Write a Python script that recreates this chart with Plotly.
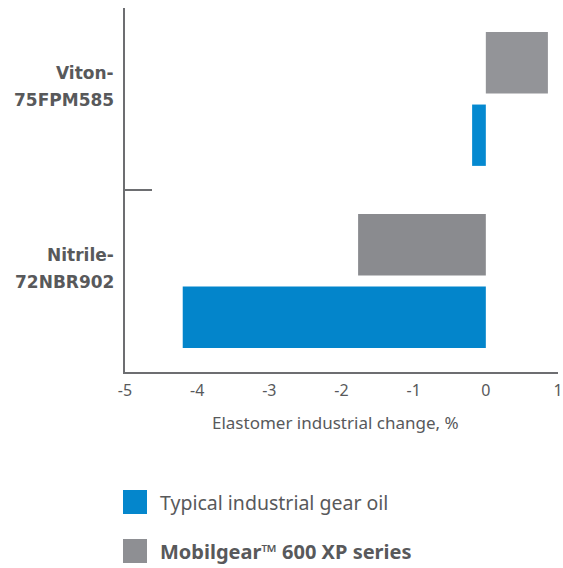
import plotly.graph_objects as go

categories = ["Nitrile-72NBR902", "Viton-75FPM585"]
category_lines = [["Nitrile-", "72NBR902"], ["Viton-", "75FPM585"]]
typical_values = [-4.2, -0.19]
mobilgear_values = [-1.77, 0.86]
series_names = ["Typical industrial gear oil", "Mobilgear™ 600 XP series"]
x_ticks = [-5, -4, -3, -2, -1, 0, 1]
x_tick_labels = ["-5", "-4", "-3", "-2", "-1", "0", "1"]
x_title = "Elastomer industrial change, %"

BLUE = "#0486cc"
GRAY = "#8e8f93"
TEXT = "#58595b"
AXIS = "#6d6e71"
FONT = "Noto Sans"
BOLD_FONT = "DejaVu Sans"

fig = go.Figure()
fig.add_trace(go.Bar(y=categories, x=typical_values, orientation="h",
                     name=series_names[0],
                     marker=dict(color=["#0385cb", "#0589d0"], line=dict(width=0)),
                     showlegend=False))
fig.add_trace(go.Bar(y=categories, x=mobilgear_values, orientation="h",
                     name=series_names[1],
                     marker=dict(color=["#8a8b8f", "#939498"], line=dict(width=0)),
                     showlegend=False))

L, R, T, B = 125, 5, 8, 196
W, H = 563.0 - L - R, 568.0 - T - B  # plot area size in px
Y0 = T + H  # pixel row of the x axis line

# category labels (two lines each, right aligned at the axis)
for cat, lines in zip(categories, category_lines):
    for i, line in enumerate(lines):
        fig.add_annotation(xref="paper", yref="y", x=(116 - L) / W, y=cat,
                           yshift=13 + (13.5 if i == 0 else -13.5),
                           text=f"<b>{line}</b>", showarrow=False,
                           xanchor="right", yanchor="middle",
                           font=dict(family=BOLD_FONT, size=17, color=TEXT))

# x axis title
fig.add_annotation(xref="paper", yref="paper", x=(335 - L) / W, y=(Y0 - 422) / H,
                   text=x_title, showarrow=False, xanchor="center", yanchor="middle",
                   font=dict(family=FONT, size=17, color=TEXT))

# manual legend
legend_rows = [(BLUE, series_names[0], False, 502), (GRAY, series_names[1], True, 551)]
for color, label, bold, py in legend_rows:
    fig.add_shape(type="rect", xref="paper", yref="paper",
                  x0=(123 - L) / W, x1=(147 - L) / W,
                  y0=(Y0 - (py + 12)) / H, y1=(Y0 - (py - 12)) / H,
                  fillcolor=color, line=dict(width=0))
    fig.add_annotation(xref="paper", yref="paper", x=(158 - L) / W, y=(Y0 - py) / H,
                       text=f"<b>{label}</b>" if bold else label, showarrow=False,
                       xanchor="left", yanchor="middle",
                       font=dict(family=FONT, size=19.5 if not bold else 20, color=TEXT))

fig.update_layout(
    width=563, height=568,
    margin=dict(l=L, r=R, t=T, b=B, autoexpand=False),
    paper_bgcolor="white", plot_bgcolor="white",
    barmode="group", bargap=0.204, bargroupgap=0.153,
    font=dict(family=FONT, color=TEXT),
    xaxis=dict(range=[-5, 1], tickvals=x_ticks, ticktext=x_tick_labels,
               showgrid=False, zeroline=False, automargin=False,
               showline=True, linecolor=AXIS, linewidth=1.5, ticks="",
               tickfont=dict(size=16, color=TEXT), ticklabelstandoff=3,
               ticklabeloverflow="allow"),
    yaxis=dict(type="category", categoryorder="array", categoryarray=categories,
               showgrid=False, zeroline=False, showline=True, linecolor=AXIS,
               automargin=False,
               linewidth=1.5, ticks="inside", tickson="boundaries", ticklen=27,
               tickcolor=AXIS, tickwidth=1.5, showticklabels=False),
)

fig.write_html("out.html", config={"displayModeBar": False},
               post_script="document.body.style.margin='0';document.body.style.padding='0';")
